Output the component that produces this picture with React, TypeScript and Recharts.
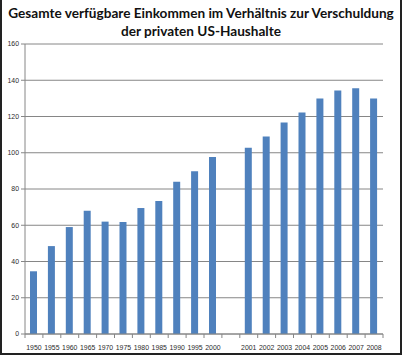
import { BarChart, Bar, XAxis, YAxis, CartesianGrid } from "recharts";

// years; the empty label is the gap Excel leaves between 2000 and 2001
const years = [
  "1950", "1955", "1960", "1965", "1970", "1975", "1980", "1985", "1990", "1995", "2000",
  "",
  "2001", "2002", "2003", "2004", "2005", "2006", "2007", "2008",
];

const ratio: (number | null)[] = [
  34.6, 48.5, 59.0, 68.0, 62.0, 61.8, 69.5, 73.4, 84.0, 89.8, 97.6,
  null,
  102.8, 108.9, 116.7, 122.2, 129.9, 134.3, 135.6, 130.0,
];

const yTicks = [0, 20, 40, 60, 80, 100, 120, 140, 160];

const data = years.map((year, i) => ({ year, value: ratio[i] }));

const axisColor = "#868686";
const labelFont = "'Liberation Sans', Arial, sans-serif";

// Excel draws category ticks between the bars, not under them
const YearTick = (props: any) => {
  const { x, y, payload, index } = props;
  const half = payload.offset || 8.95;
  return (
    <g>
      <line x1={x - half} y1={y - 8} x2={x - half} y2={y - 4} stroke={axisColor} />
      {index === years.length - 1 && (
        <line x1={x + half} y1={y - 8} x2={x + half} y2={y - 4} stroke={axisColor} />
      )}
      <text
        x={x}
        y={y + 8}
        textAnchor="middle"
        fontSize={6.9}
        fontFamily={labelFont}
        fill="#2b2b2b"
      >
        {payload.value}
      </text>
    </g>
  );
};

export default function App() {
  return (
    <div
      style={{
        position: "fixed",
        top: 0,
        left: 0,
        width: 402,
        height: 355,
        background: "#fff",
        boxSizing: "border-box",
        borderLeft: "2px solid #222",
        borderRight: "2px solid #222",
        borderBottom: "2px solid #222",
        overflow: "hidden",
      }}
    >
      <div
        style={{
          position: "absolute",
          top: 4,
          left: 0,
          width: 398,
          textAlign: "center",
          whiteSpace: "nowrap",
          fontFamily: "Lato, 'Open Sans', sans-serif",
          fontWeight: 700,
          fontSize: 13.6,
          lineHeight: "18px",
          color: "#111",
        }}
      >
        Gesamte verfügbare Einkommen im Verhältnis zur Verschuldung
        <br />
        der privaten US-Haushalte
      </div>
      <div style={{ position: "absolute", top: 0, left: -2 }}>
        <BarChart
          width={402}
          height={355}
          data={data}
          margin={{ top: 44, right: 19, left: 0, bottom: 0 }}
          barSize={7}
        >
          <CartesianGrid vertical={false} stroke={axisColor} strokeWidth={1} />
          <XAxis
            dataKey="year"
            height={21}
            stroke={axisColor}
            tickLine={false}
            interval={0}
            tick={<YearTick />}
          />
          <YAxis
            width={25}
            domain={[0, 160]}
            ticks={yTicks}
            stroke={axisColor}
            tickSize={4}
            tick={{ fontSize: 6.9, fontFamily: labelFont, fill: "#2b2b2b" }}
          />
          <Bar dataKey="value" fill="#4F81BD" isAnimationActive={false} />
        </BarChart>
      </div>
    </div>
  );
}
